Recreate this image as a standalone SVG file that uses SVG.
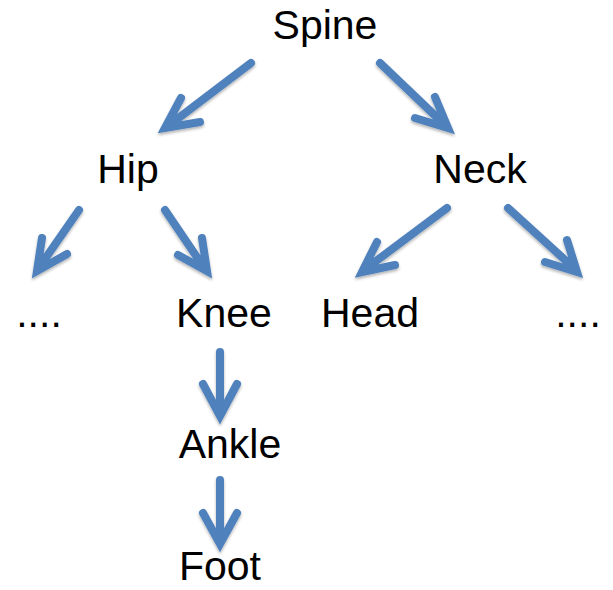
<svg xmlns="http://www.w3.org/2000/svg" width="613" height="590" viewBox="0 0 613 590">
<style>
  .lbl { font-family: "Liberation Sans", Arial, sans-serif; font-size: 41px; fill: #000; text-anchor: middle; }
  .arr { fill: none; stroke: #4F81BD; stroke-width: 8; stroke-linecap: round; stroke-linejoin: miter; stroke-miterlimit: 10; }
</style>
<defs>
  <filter id="sh" x="-20%" y="-20%" width="140%" height="140%">
    <feGaussianBlur in="SourceAlpha" stdDeviation="1.5"/>
    <feOffset dx="0" dy="2" result="b"/>
    <feComponentTransfer><feFuncA type="linear" slope="0.3"/></feComponentTransfer>
    <feMerge><feMergeNode/><feMergeNode in="SourceGraphic"/></feMerge>
  </filter>
</defs>
<rect width="613" height="590" fill="#fff"/>
<g id="connectors" filter="url(#sh)">
  <path class="arr" d="M251,63 L168,126 M181,98 L165,128 L200,122"/>
  <path class="arr" d="M380,63 L446,126 M435,97 L448,128 L415,118"/>
  <path class="arr" d="M79,210 L38,269 M42,238 L37,271 L67,254"/>
  <path class="arr" d="M165,210 L205,269 M202,238 L207,271 L178,255"/>
  <path class="arr" d="M447,208 L364,270 M377,242 L362,272 L395,265"/>
  <path class="arr" d="M508,208 L575,269 M567,240 L577,272 L545,262"/>
  <path class="arr" d="M220,352 L220,413 M203,384 L220,416 L237,384"/>
  <path class="arr" d="M220,480 L220,541 M203,513 L220,544 L237,513"/>
</g>
<g id="spine"><text class="lbl" x="325" y="39">Spine</text></g>
<g id="hip"><text class="lbl" x="128" y="183">Hip</text></g>
<g id="neck"><text class="lbl" x="480" y="183">Neck</text></g>
<g id="dots-left"><text class="lbl" x="39" y="327">....</text></g>
<g id="knee"><text class="lbl" x="224" y="327">Knee</text></g>
<g id="head"><text class="lbl" x="370" y="327">Head</text></g>
<g id="dots-right"><text class="lbl" x="578" y="327">....</text></g>
<g id="ankle"><text class="lbl" x="230" y="458">Ankle</text></g>
<g id="foot"><text class="lbl" x="220" y="580">Foot</text></g>
</svg>
